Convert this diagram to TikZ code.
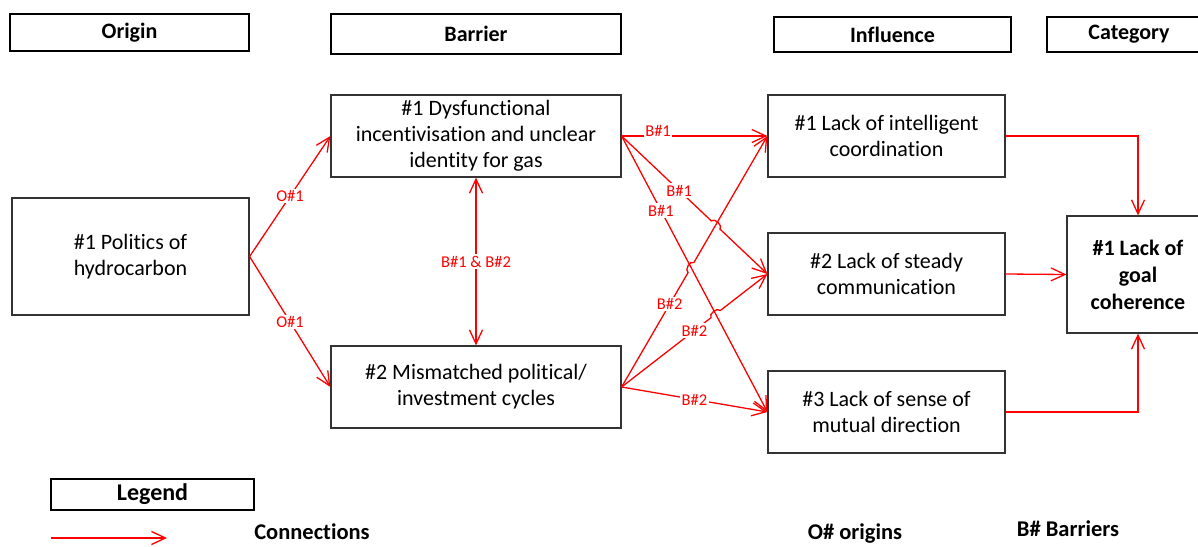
\documentclass[tikz,border=0pt]{standalone}
\usepackage{fontspec}
\setmainfont{Carlito}[Ligatures=NoCommon]
\usetikzlibrary{arrows.meta,calc}
\definecolor{linkred}{RGB}{255,0,0}
\begin{document}
\begin{tikzpicture}[x=1pt,y=-1pt,
  >={Straight Barb[length=14pt,width=13pt]},
  box/.style={draw=black!80, line width=1.2pt, inner sep=0pt, align=center,
    font=\fontsize{22}{26}\selectfont},
  catbox/.style={box, font=\bfseries\fontsize{22}{27}\selectfont},
  head/.style={draw=black, line width=1.6pt, inner sep=0pt,
    font=\bfseries\fontsize{22}{26}\selectfont},
  link/.style={draw=linkred, line width=1.3pt, ->},
  lbl/.style={text=linkred, fill=white, inner sep=1.5pt,
    font=\fontsize{16.5}{19}\selectfont},
  note/.style={inner sep=0.5pt, font=\bfseries\fontsize{22.5}{26}\selectfont},
]
\useasboundingbox (0,0) rectangle (1198,546);

% column headers
\node[head, minimum width=239, minimum height=37] (hOrigin) at (129.5,32.5) {Origin};
\node[head, minimum width=290, minimum height=40] (hBarrier) at (476,34) {Barrier};
\node[head, minimum width=237, minimum height=35] (hInfluence) at (892.5,34.5) {Influence};
\node[head, minimum width=164, minimum height=35] (hCategory) at (1129,34.5) {Category};

% origin
\node[box, minimum width=237, minimum height=117] (O1) at (130.5,256.5)
  {\#1 Politics of\\hydrocarbon};

% barriers
\node[box, minimum width=290, minimum height=82] (B1) at (476,136)
  {\#1 Dysfunctional\\incentivisation and unclear\\identity for gas};
\node[box, minimum width=290, minimum height=82] (B2) at (476,387)
  {\#2 Mismatched political/\\investment cycles};

% influences
\node[box, minimum width=237, minimum height=82] (I1) at (886.5,136)
  {\#1 Lack of intelligent\\coordination};
\node[box, minimum width=237, minimum height=82] (I2) at (886.5,274)
  {\#2 Lack of steady\\communication};
\node[box, minimum width=237, minimum height=82] (I3) at (886.5,412)
  {\#3 Lack of sense of\\mutual direction};

% category
\node[catbox, minimum width=142, minimum height=117] (C1) at (1138,274.5)
  {\#1 Lack of\\goal\\coherence};

% origin -> barriers
\draw[link] (O1.east) -- (B1.west);
\draw[link] (O1.east) -- (B2.west);
\draw[link, <->] (B1.south) -- (B2.north);

% barriers -> influences (with line hops at crossings)
\draw[link] (B1.east) -- (I1.west);
\draw[link] (B1.east) -- ($(B1.east)!0.615!(I2.west)$)
  to[bend left=90] ($(B1.east)!0.675!(I2.west)$) -- (I2.west);
\draw[link] (B1.east) -- (I3.west);
\draw[link] (B2.east) -- ($(B2.east)!0.456!(I1.west)$)
  to[bend left=90] ($(B2.east)!0.496!(I1.west)$) -- (I1.west);
\draw[link] (B2.east) -- ($(B2.east)!0.613!(I2.west)$)
  to[bend left=90] ($(B2.east)!0.677!(I2.west)$) -- (I2.west);
\draw[link] (B2.east) -- (I3.west);

% influences -> category
\draw[link] (I1.east) -| (C1.north);
\draw[link] (I2.east) -- (C1.west);
\draw[link] (I3.east) -| (C1.south);

% connector labels
\node[lbl] (l1) at ($(O1.east)!0.5!(B1.west)$) {O\#1};
\node[lbl] (l2) at ($(O1.east)!0.5!(B2.west)$) {O\#1};
\node[lbl] (l3) at ($(B1.south)!0.5!(B2.north)$) {B\#1 \& B\#2};
\node[lbl] (l4) at ($(B1.east)!0.25!(I1.west)+(0,-5)$) {B\#1};
\node[lbl] (l5) at ($(B1.east)!0.395!(I2.west)$) {B\#1};
\node[lbl] (l6) at ($(B1.east)!0.27!(I3.west)$) {B\#1};
\node[lbl] (l7) at ($(B2.east)!0.33!(I1.west)$) {B\#2};
\node[lbl] (l8) at ($(B2.east)!0.5!(I2.west)$) {B\#2};
\node[lbl] (l9) at ($(B2.east)!0.5!(I3.west)$) {B\#2};

% legend
\node[head, minimum width=203, minimum height=31, font=\bfseries\fontsize{24}{28}\selectfont]
  (legend) at (152.5,494.5) {Legend};
\coordinate (ls) at (51,538);
\coordinate (le) at (167,538);
\draw[link] (ls) -- (le);
\node[note] (tConn) at (312,532) {Connections};
\node[note] (tOrig) at (855,534) {O\# origins};
\node[note] (tBarr) at (1068,529) {B\# Barriers};
\end{tikzpicture}
\end{document}
